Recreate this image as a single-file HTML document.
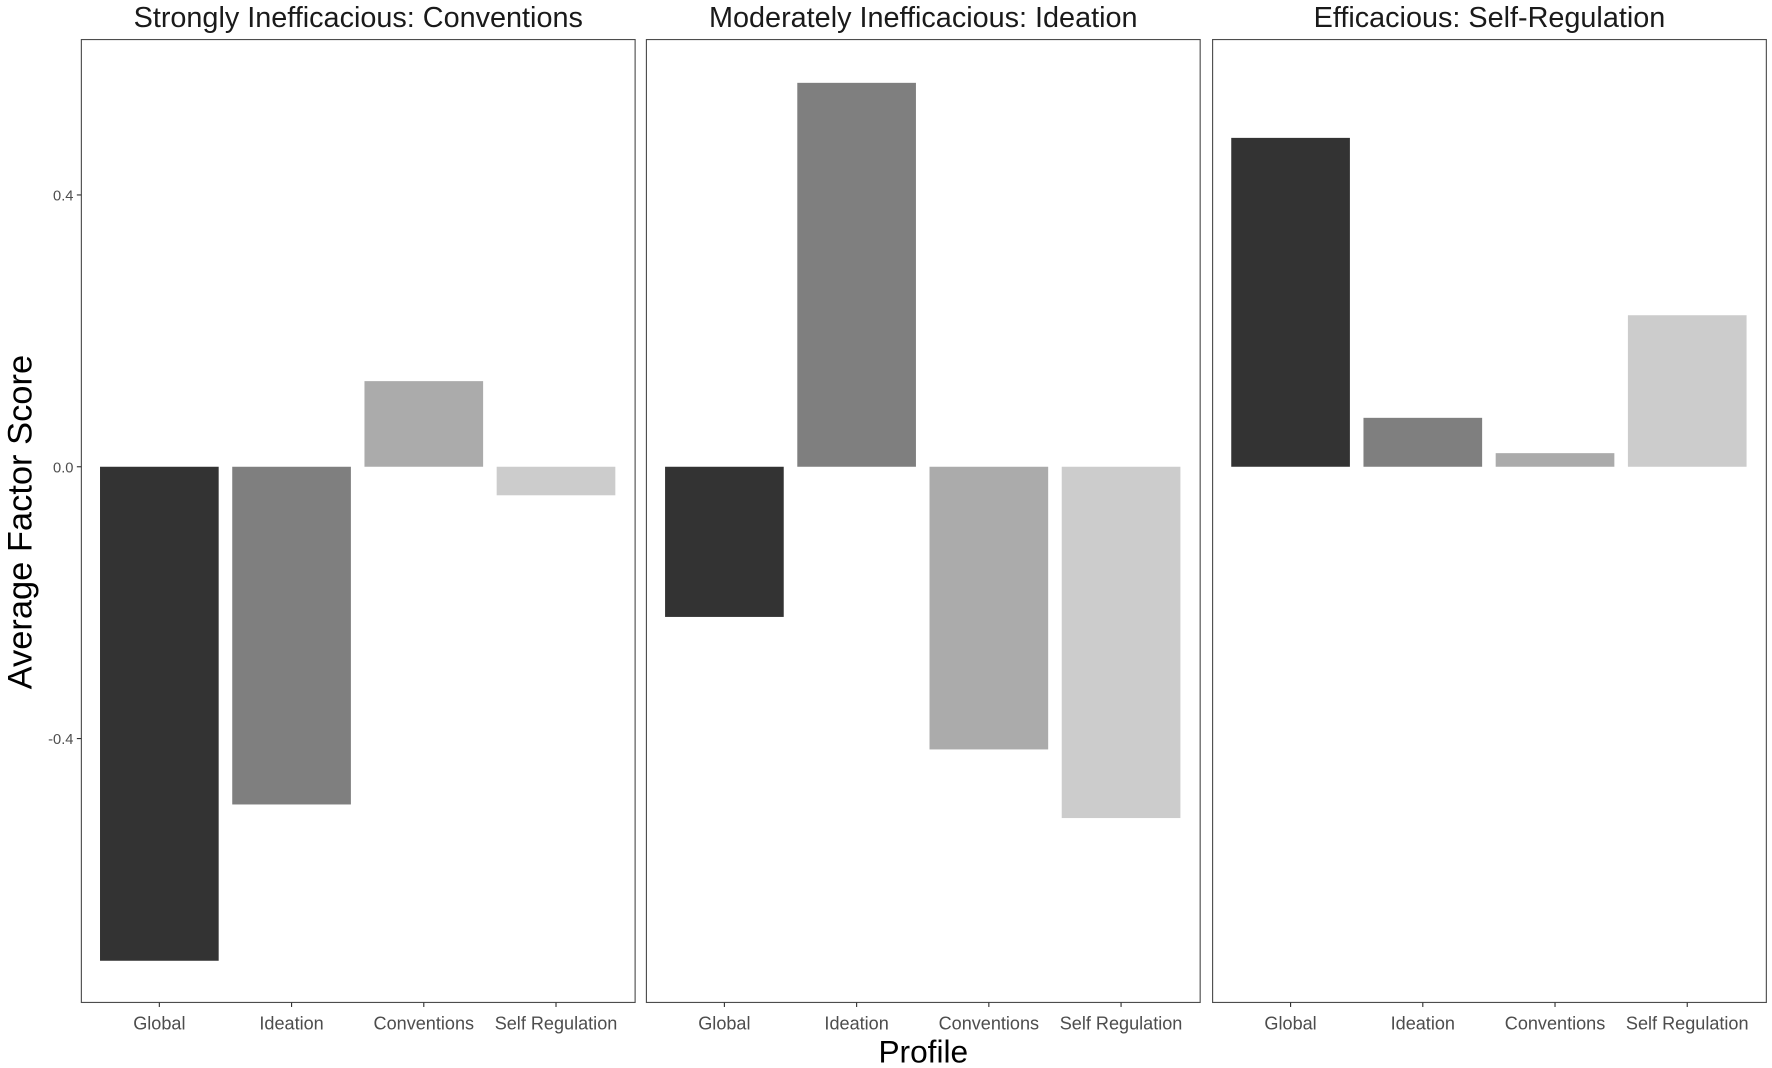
<!DOCTYPE html>
<html><head><meta charset="utf-8"><style>
html,body{margin:0;padding:0;background:#fff;}
svg{display:block;}
</style></head><body>
<svg id="chart" width="1772" height="1068" viewBox="0 0 1568 945" preserveAspectRatio="none" xmlns="http://www.w3.org/2000/svg" font-family="Liberation Sans, Arial, sans-serif"></svg>
<script>
const panels = ["Strongly Inefficacious: Conventions","Moderately Inefficacious: Ideation","Efficacious: Self-Regulation"];
const categories = ["Global","Ideation","Conventions","Self Regulation"];
const valuesStrong = [-0.727,-0.497,0.126,-0.042];
const valuesModerate = [-0.221,0.565,-0.416,-0.517];
const valuesEfficacious = [0.484,0.072,0.020,0.223];
const yTicks = [-0.4,0.0,0.4];
const yTickLabels = ["-0.4","0.0","0.4"];

const series = [valuesStrong, valuesModerate, valuesEfficacious];
const colors = ["#333333","#7f7f7f","#ababab","#cccccc"];
const NS = "http://www.w3.org/2000/svg";
const svgEl = document.getElementById("chart");
const panelX = [72,572,1073], panelW = 490, plotTop = 35, plotBottom = 887;
const zeroY = 413, pxPerUnit = 240.5/0.4;
function yScale(v){ return zeroY - v*pxPerUnit; }
function xScale(p,i){ return panelX[p] + 69 + i*117; }
const barW = 105;
function mk(tag, attrs){ const e=document.createElementNS(NS,tag); for(const k in attrs) e.setAttribute(k,attrs[k]); svgEl.appendChild(e); return e; }

for(let p=0;p<3;p++){
  const frame = mk("rect",{x:panelX[p],y:plotTop,width:panelW,height:plotBottom-plotTop,fill:"#fff",stroke:"#4d4d4d","stroke-width":1});
  
  
  const t = mk("text",{x:panelX[p]+panelW/2,y:24,"text-anchor":"middle","font-size":25.5,fill:"#1a1a1a"});
  t.textContent = panels[p];
  
  
  series[p].forEach((v,i)=>{
    const cx = xScale(p,i);
    const y0 = Math.min(yScale(v), zeroY), h = Math.abs(yScale(v)-zeroY);
    const r = mk("rect",{x:cx-barW/2,y:y0,width:barW,height:h,fill:colors[i]});
    
    
    const tk = mk("line",{x1:cx,x2:cx,y1:plotBottom,y2:plotBottom+4,stroke:"#333","stroke-width":1});
    
    
    const lb = mk("text",{x:cx,y:911,"text-anchor":"middle","font-size":16,fill:"#4d4d4d"});
    lb.textContent = categories[i];
    
    
  });
}
yTicks.forEach((v,i)=>{
  const y = yScale(v);
  const tk = mk("line",{x1:68,x2:72,y1:y,y2:y,stroke:"#333","stroke-width":1});
  
  
  const lb = mk("text",{x:65,y:y+5,"text-anchor":"end","font-size":13,fill:"#4d4d4d"});
  lb.textContent = yTickLabels[i];
  
  
});
const xt = mk("text",{x:817,y:940,"text-anchor":"middle","font-size":28,fill:"#000"});
xt.textContent = "Profile";


const yt = mk("text",{x:0,y:0,"text-anchor":"middle","font-size":30.5,fill:"#000",transform:"translate(28,462) rotate(-90)"});
yt.textContent = "Average Factor Score";


</script>
</body></html>
